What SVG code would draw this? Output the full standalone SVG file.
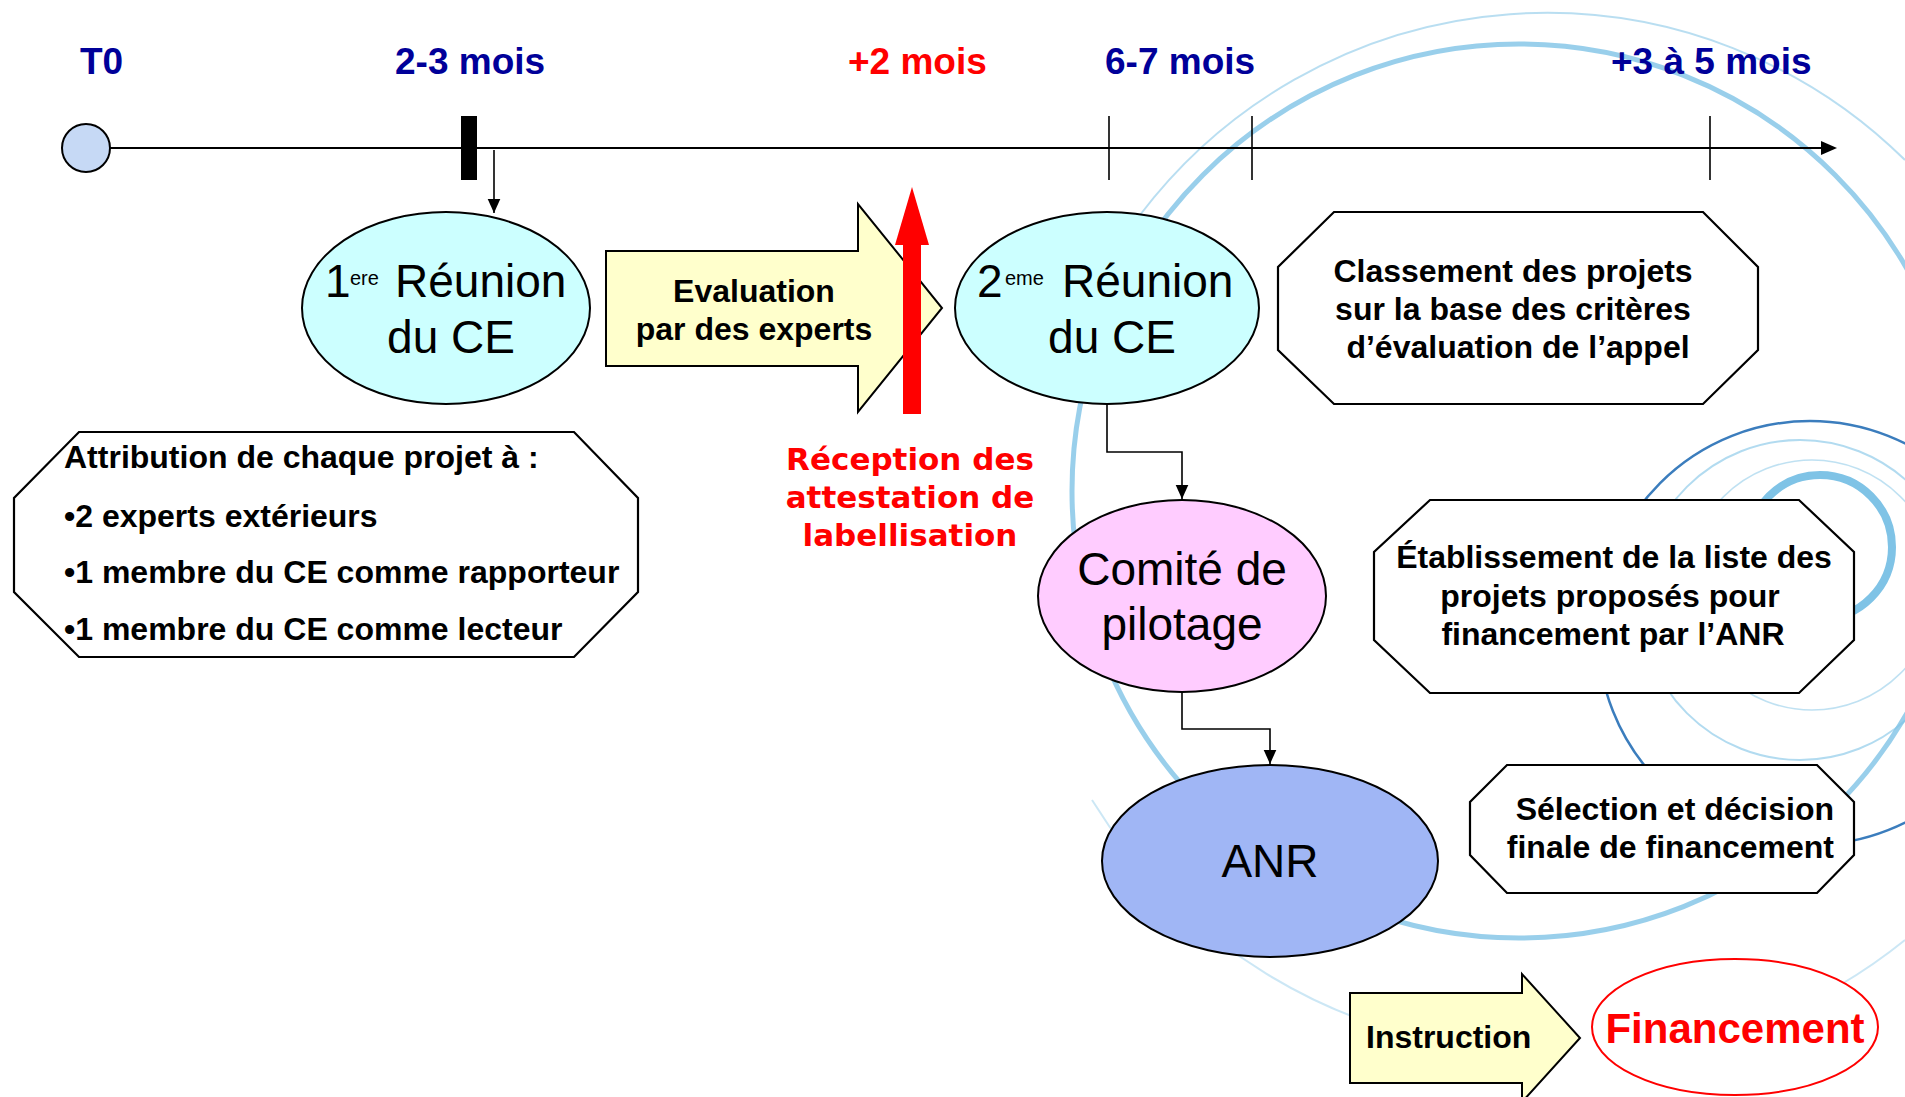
<svg xmlns="http://www.w3.org/2000/svg" width="1905" height="1097" viewBox="0 0 1905 1097">
<style>
.bg{fill:none;stroke:#7fc3e6}
.node{stroke:#000;stroke-width:2}
.oct{fill:#fff;stroke:#000;stroke-width:2.2}
.t{font-family:"Liberation Sans",Arial,sans-serif;fill:#000}
.b{font-weight:bold;font-size:32px}
.big{font-size:46px}
.sup{font-size:20px}
.lab{font-family:"Liberation Sans",Arial,sans-serif;font-weight:bold;font-size:37px}
.blue{fill:#000099}
.red{fill:#ff0000}
.conn{fill:none;stroke:#000;stroke-width:1.6}
.tick{stroke:#000;stroke-width:1.6}
</style>
<defs>
<marker id="ah" viewBox="0 0 10 10" refX="10" refY="5" markerWidth="10" markerHeight="10" markerUnits="userSpaceOnUse" orient="auto">
<path d="M0,0 L10,5 L0,10 Z" fill="#000"/>
</marker>
<marker id="ah2" viewBox="0 0 10 10" refX="10" refY="5" markerWidth="14" markerHeight="14" markerUnits="userSpaceOnUse" orient="auto">
<path d="M0,0.5 L10,5 L0,9.5 Z" fill="#000"/>
</marker>
</defs>
<rect width="1905" height="1097" fill="#fff"/>
<g id="background">
<circle class="bg" cx="1519" cy="491" r="447" stroke-width="5" opacity="0.8"/>
<path class="bg" d="M1140 215 A510 510 0 0 1 1905 160" stroke-width="2" opacity="0.55"/>
<path class="bg" d="M1092 800 A530 530 0 0 0 1500 1050" stroke-width="2" opacity="0.4"/>
<path class="bg" d="M1840 985 A530 530 0 0 0 1905 940" stroke-width="2" opacity="0.4"/>
<circle class="bg" cx="1800" cy="600" r="160" stroke-width="2" opacity="0.6"/>
<circle class="bg" cx="1812" cy="585" r="125" stroke-width="1.5" opacity="0.5"/>
<circle class="bg" cx="1820" cy="547" r="72" stroke-width="8" stroke="#8dcbe9"/>
<circle cx="1810" cy="633" r="212" fill="none" stroke="#3b7dbd" stroke-width="2.5"/>
</g>
<g id="timeline">
<line x1="110" y1="148" x2="1824" y2="148" stroke="#000" stroke-width="2"/>
<polygon points="1837,148 1821,141 1821,155" fill="#000"/>
<circle cx="86" cy="148" r="24" fill="#c6d9f5" stroke="#000" stroke-width="2"/>
<rect x="461" y="116" width="16" height="64" fill="#000"/>
<line class="tick" x1="1109" y1="116" x2="1109" y2="180"/>
<line class="tick" x1="1252" y1="116" x2="1252" y2="180"/>
<line class="tick" x1="1710" y1="116" x2="1710" y2="180"/>
<text class="lab blue" x="80" y="74">T0</text>
<text class="lab blue" x="395" y="74">2-3 mois</text>
<text class="lab red" x="848" y="74">+2 mois</text>
<text class="lab blue" x="1105" y="74">6-7 mois</text>
<text class="lab blue" x="1611" y="74">+3 à 5 mois</text>
</g>
<g id="connectors">
<line class="conn" x1="494" y1="150" x2="494" y2="213" marker-end="url(#ah2)"/>
<polyline class="conn" points="1107,404 1107,452 1182,452 1182,499" marker-end="url(#ah2)"/>
<polyline class="conn" points="1182,693 1182,729 1270,729 1270,764" marker-end="url(#ah2)"/>
</g>
<g id="reunion1">
<ellipse class="node" cx="446" cy="308" rx="144" ry="96" fill="#ccffff"/>
<text class="t big" x="325" y="297">1</text>
<text class="t sup" x="350" y="285">ere</text>
<text class="t big" x="395" y="297">Réunion</text>
<text class="t big" x="451" y="353" text-anchor="middle">du CE</text>
</g>
<g id="evaluation">
<polygon class="node" points="606,251 858,251 858,204 942,308 858,412 858,366 606,366" fill="#ffffcc"/>
<text class="t b" x="754" y="302" text-anchor="middle">Evaluation</text>
<text class="t b" x="754" y="340" text-anchor="middle">par des experts</text>
</g>
<g id="reception">
<rect x="903" y="243" width="18" height="171" fill="#ff0000"/>
<polygon points="895,245 912,187 929,245" fill="#ff0000"/>
<g font-family="'DejaVu Sans',Verdana,sans-serif" font-weight="bold" font-size="31" fill="#ff0000" text-anchor="middle">
<text x="910" y="470">Réception des</text>
<text x="910" y="508">attestation de</text>
<text x="910" y="546">labellisation</text>
</g>
</g>
<g id="reunion2">
<ellipse class="node" cx="1107" cy="308" rx="152" ry="96" fill="#ccffff"/>
<text class="t big" x="977" y="297">2</text>
<text class="t sup" x="1005" y="285">eme</text>
<text class="t big" x="1062" y="297">Réunion</text>
<text class="t big" x="1112" y="353" text-anchor="middle">du CE</text>
</g>
<g id="classement">
<polygon class="oct" points="1334,212 1703,212 1758,267 1758,350 1703,404 1334,404 1278,350 1278,267"/>
<text class="t b" x="1513" y="282" text-anchor="middle">Classement des projets</text>
<text class="t b" x="1513" y="320" text-anchor="middle">sur la base des critères</text>
<text class="t b" x="1518" y="358" text-anchor="middle">d’évaluation de l’appel</text>
</g>
<g id="attribution">
<polygon class="oct" points="79,432 574,432 638,498 638,592 574,657 79,657 14,592 14,498"/>
<text class="t b" x="64" y="468">Attribution de chaque projet à :</text>
<text class="t b" x="64" y="527">•2 experts extérieurs</text>
<text class="t b" x="64" y="583">•1 membre du CE comme rapporteur</text>
<text class="t b" x="64" y="640">•1 membre du CE comme lecteur</text>
</g>
<g id="comite">
<ellipse class="node" cx="1182" cy="596" rx="144" ry="96" fill="#ffccff"/>
<text class="t big" x="1182" y="585" text-anchor="middle">Comité de</text>
<text class="t big" x="1182" y="640" text-anchor="middle">pilotage</text>
</g>
<g id="etablissement">
<polygon class="oct" points="1430,500 1799,500 1854,552 1854,640 1799,693 1430,693 1374,640 1374,552"/>
<text class="t b" x="1614" y="568" text-anchor="middle">Établissement de la liste des</text>
<text class="t b" x="1610" y="607" text-anchor="middle">projets proposés pour</text>
<text class="t b" x="1613" y="645" text-anchor="middle">financement par l’ANR</text>
</g>
<g id="anr">
<ellipse class="node" cx="1270" cy="861" rx="168" ry="96" fill="#a0b6f5"/>
<text class="t big" x="1270" y="877" text-anchor="middle">ANR</text>
</g>
<g id="selection">
<polygon class="oct" points="1507,765 1817,765 1854,802 1854,855 1817,893 1507,893 1470,855 1470,802"/>
<text class="t b" x="1834" y="820" text-anchor="end">Sélection et décision</text>
<text class="t b" x="1834" y="858" text-anchor="end">finale de financement</text>
</g>
<g id="instruction">
<polygon class="node" points="1350,993 1522,993 1522,974 1580,1038 1522,1102 1522,1083 1350,1083" fill="#ffffcc"/>
<text class="t b" x="1366" y="1048">Instruction</text>
</g>
<g id="financement">
<ellipse cx="1735" cy="1027" rx="143" ry="68" fill="#fff" stroke="#ff0000" stroke-width="2"/>
<text class="t red" x="1735" y="1043" text-anchor="middle" font-weight="bold" font-size="42">Financement</text>
</g>
</svg>
